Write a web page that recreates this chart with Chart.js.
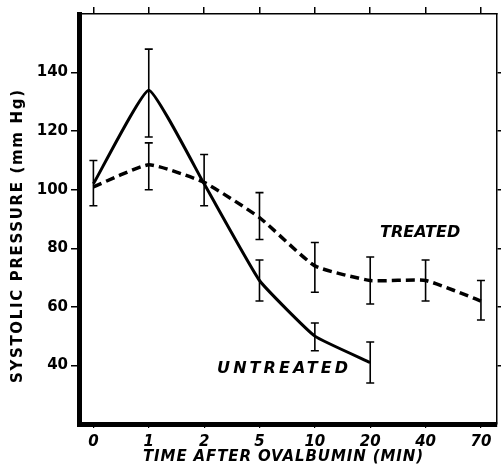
<!DOCTYPE html>
<html>
<head>
<meta charset="utf-8">
<script src="https://cdn.jsdelivr.net/npm/chart.js@4.4.1/dist/chart.umd.min.js"></script>
<style>
  html, body { margin: 0; padding: 0; background: #fff; }
  #wrap { width: 501px; height: 466px; }
</style>
</head>
<body>
<div id="wrap"><canvas id="bpChart" width="501" height="466"></canvas></div>
<script>
// time after ovalbumin (min), one slot per reading
const times = ["0", "1", "2", "5", "10", "20", "40", "70"];
const yTicks = [40, 60, 80, 100, 120, 140];

// systolic pressure (mm Hg), mean and error bar ends
const untreated   = [102, 134, 102, 69, 50, 41, null, null];
const untreatedHi = [110, 148, 112, 76, 54.5, 48, null, null];
const untreatedLo = [94.5, 118, 94.5, 62, 45, 34, null, null];

const treated   = [101, 108.5, 102.5, 90.5, 74, 69, 69, 62];
const treatedHi = [null, 116, null, 99, 82, 77, 76, 69];
const treatedLo = [null, 100, null, 83, 65, 61, 62, 55.5];

const FONT = "DejaVu Sans";
const xMin = -0.26, xMax = 7.29;

function points(arr) {
  return arr.map((v, i) => ({ x: i, y: v })).filter(p => p.y !== null);
}

// text squeezed/stretched to a given width with letter spacing
function spacedText(ctx, text, cx, cy, width) {
  ctx.letterSpacing = "0px";
  const w0 = ctx.measureText(text).width;
  const ls = Math.max(0, (width - w0) / (text.length - 1));
  ctx.letterSpacing = ls + "px";
  ctx.textAlign = "left";
  ctx.textBaseline = "middle";
  ctx.fillText(text, cx - width / 2, cy);
  ctx.letterSpacing = "0px";
}

const extras = {
  id: "extras",
  afterDatasetsDraw(chart) {
    const ctx = chart.ctx;
    const xs = chart.scales.x, ys = chart.scales.y;
    ctx.save();
    ctx.strokeStyle = "#000";
    ctx.lineWidth = 1.6;
    [[untreatedHi, untreatedLo], [treatedHi, treatedLo]].forEach(([hi, lo]) => {
      hi.forEach((h, i) => {
        if (h === null) return;
        const x = xs.getPixelForValue(i);
        const y1 = ys.getPixelForValue(h), y2 = ys.getPixelForValue(lo[i]);
        ctx.beginPath();
        ctx.moveTo(x, y1); ctx.lineTo(x, y2);
        ctx.moveTo(x - 4, y1); ctx.lineTo(x + 4, y1);
        ctx.moveTo(x - 4, y2); ctx.lineTo(x + 4, y2);
        ctx.stroke();
      });
    });

    ctx.fillStyle = "#000";
    // series labels
    ctx.font = "italic bold 16px '" + FONT + "'";
    spacedText(ctx, "TREATED", xs.getPixelForValue(5.855), ys.getPixelForValue(85.2), 75);
    spacedText(ctx, "UNTREATED", xs.getPixelForValue(3.417), ys.getPixelForValue(38.8), 131);

    // axis titles
    ctx.font = "italic bold 15px '" + FONT + "'";
    spacedText(ctx, "TIME AFTER OVALBUMIN (MIN)", 283, 457, 280);
    ctx.translate(18.5, 236.5);
    ctx.rotate(-Math.PI / 2);
    ctx.font = "bold 15px '" + FONT + "'";
    spacedText(ctx, "SYSTOLIC PRESSURE (mm Hg)", 0, 0, 293);
    ctx.restore();
  }
};

new Chart(document.getElementById("bpChart"), {
  type: "line",
  data: {
    datasets: [
      {
        label: "Untreated",
        data: points(untreated),
        borderColor: "#000",
        borderWidth: 3,
        tension: 0.12,
        pointRadius: 0,
        fill: false,
        xAxisID: "x",
        yAxisID: "y"
      },
      {
        label: "Treated",
        data: points(treated),
        borderColor: "#000",
        borderWidth: 3.5,
        borderDash: [9, 5],
        tension: 0.15,
        pointRadius: 0,
        fill: false,
        xAxisID: "x",
        yAxisID: "y"
      }
    ]
  },
  options: {
    responsive: false,
    animation: false,
    devicePixelRatio: 1,
    layout: { padding: 0 },
    plugins: { legend: { display: false }, tooltip: { enabled: false } },
    scales: {
      x: {
        type: "linear", position: "bottom", min: xMin, max: xMax,
        afterBuildTicks: s => { s.ticks = times.map((t, i) => ({ value: i })); },
        afterFit: s => { s.height = 42; },
        grid: { drawOnChartArea: false, tickLength: 4, color: "#000", lineWidth: 1.2 },
        border: { color: "#000", width: 5 },
        ticks: {
          callback: v => times[v], color: "#000", padding: 5,
          maxRotation: 0, autoSkip: false,
          font: { family: FONT, size: 15, weight: "bold", style: "italic" }
        }
      },
      x2: {
        type: "linear", position: "top", min: xMin, max: xMax,
        afterBuildTicks: s => { s.ticks = times.map((t, i) => ({ value: i })); },
        afterFit: s => { s.height = 14; },
        grid: { drawOnChartArea: false, tickLength: 7, color: "#000", lineWidth: 1.5 },
        border: { color: "#000", width: 1.5 },
        ticks: { display: false }
      },
      y: {
        type: "linear", position: "left", min: 20, max: 160,
        afterBuildTicks: s => { s.ticks = yTicks.map(v => ({ value: v })); },
        afterFit: s => { s.width = 79; },
        grid: { drawOnChartArea: false, tickLength: 8, color: "#000", lineWidth: 1.5 },
        border: { color: "#000", width: 5 },
        ticks: { color: "#000", padding: 3, font: { family: FONT, size: 15, weight: "bold" } }
      },
      y2: {
        type: "linear", position: "right", min: 20, max: 160,
        afterBuildTicks: s => { s.ticks = yTicks.map(v => ({ value: v })); },
        afterFit: s => { s.width = 4; },
        grid: { drawOnChartArea: false, tickLength: 4, color: "#000", lineWidth: 1.5 },
        border: { color: "#000", width: 1.5 },
        ticks: { display: false }
      }
    }
  },
  plugins: [extras]
});
</script>
</body>
</html>
